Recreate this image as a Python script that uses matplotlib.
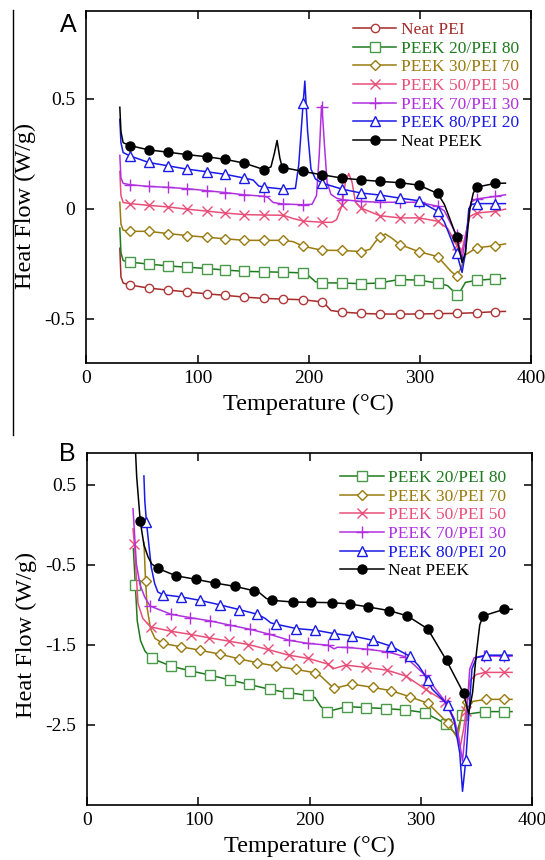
import matplotlib
matplotlib.use("Agg")
import matplotlib.pyplot as plt
from matplotlib.lines import Line2D
import numpy as np

plt.rcParams['font.family'] = ['Liberation Serif', 'DejaVu Serif']

# ---------------- panel A data (temperature in degC, heat flow in W/g) ----------------
tA = [39, 56, 73, 90, 108, 125, 142, 160, 177, 195, 212, 230, 247, 264, 282, 299, 316, 333, 351, 368]

a_pei = [-0.347, -0.361, -0.370, -0.378, -0.387, -0.394, -0.402, -0.408, -0.411, -0.414,
         -0.424, -0.470, -0.476, -0.479, -0.479, -0.479, -0.477, -0.476, -0.473, -0.468]
a_pei_t = [30, 31, 33, 215, 220, 377]
a_pei_h = [-0.18, -0.31, -0.338, -0.435, -0.463, -0.467]

a_20 = [-0.243, -0.252, -0.260, -0.266, -0.272, -0.279, -0.285, -0.287, -0.289, -0.292,
        -0.337, -0.338, -0.341, -0.338, -0.322, -0.325, -0.338, -0.393, -0.326, -0.319]
a_20_t = [30, 31, 33, 200, 206, 272, 325, 330, 337, 341, 377]
a_20_h = [-0.088, -0.20, -0.236, -0.305, -0.332, -0.33, -0.35, -0.375, -0.37, -0.335, -0.317]

a_30 = [-0.103, -0.103, -0.113, -0.122, -0.130, -0.137, -0.144, -0.144, -0.144, -0.171,
        -0.189, -0.190, -0.195, -0.128, -0.163, -0.195, -0.218, -0.307, -0.178, -0.168]
a_30_t = [30, 31, 33, 186, 255, 260, 269, 275, 328, 337, 341, 377]
a_30_h = [0.029, -0.07, -0.098, -0.15, -0.185, -0.15, -0.115, -0.135, -0.285, -0.27, -0.21, -0.160]

a_50 = [0.023, 0.015, 0.008, -0.002, -0.011, -0.020, -0.027, -0.029, -0.030, -0.056,
        -0.062, 0.015, 0.003, -0.032, -0.042, -0.042, -0.057, -0.163, -0.020, -0.012]
a_50_t = [30, 31, 33, 186, 221, 225, 233, 236, 239, 242, 325, 337, 341, 345, 377]
a_50_h = [0.169, 0.06, 0.028, -0.045, -0.062, -0.05, 0.12, 0.16, 0.12, 0.03, -0.09, -0.21, -0.12, -0.035, -0.002]

a_70 = [0.109, 0.101, 0.097, 0.091, 0.082, 0.073, 0.063, 0.056, 0.021, 0.018,
        0.46, 0.041, 0.033, 0.029, 0.029, 0.029, 0.011, -0.12, 0.044, 0.056]
a_70_t = [30, 31, 33, 163, 168, 203, 207, 209.5, 211.5, 214, 216.5, 220, 225, 322, 338, 342, 346, 377]
a_70_h = [0.242, 0.14, 0.115, 0.052, 0.028, 0.02, 0.06, 0.25, 0.468, 0.3, 0.12, 0.065, 0.048,
          -0.01, -0.23, -0.1, 0.03, 0.063]

a_80 = [0.240, 0.210, 0.195, 0.180, 0.168, 0.156, 0.139, 0.098, 0.089, 0.482,
        0.116, 0.089, 0.071, 0.062, 0.048, 0.036, -0.012, -0.201, 0.023, 0.023]
a_80_t = [30, 31, 33, 150, 155, 188, 191, 196.5, 199, 202, 206, 322, 338, 341, 344, 347, 377]
a_80_h = [0.406, 0.3, 0.255, 0.13, 0.103, 0.092, 0.2, 0.58, 0.35, 0.18, 0.135,
          -0.06, -0.29, -0.2, 0.0, 0.02, 0.023]

a_peek = [0.287, 0.267, 0.257, 0.246, 0.236, 0.224, 0.207, 0.177, 0.187, 0.169,
          0.154, 0.139, 0.131, 0.124, 0.118, 0.107, 0.069, -0.128, 0.098, 0.115]
a_peek_t = [30, 31, 33, 166, 169, 171.5, 174, 176, 322, 328, 338, 341, 345, 348, 377]
a_peek_h = [0.461, 0.35, 0.3, 0.19, 0.25, 0.31, 0.23, 0.19, 0.02, -0.06, -0.245, -0.2, 0.0, 0.07, 0.116]

# ---------------- panel B data ----------------
b_20_tm = [43.3, 58.4, 75.3, 92.5, 110.7, 128.6, 145.6, 164.1, 180.7, 198.9,
           215.8, 233.3, 250.9, 268.5, 286.1, 303.7, 322.5, 337, 357.6, 374.9]
b_20 = [-0.757, -1.670, -1.766, -1.824, -1.878, -1.940, -1.994, -2.056, -2.098, -2.131,
        -2.334, -2.272, -2.284, -2.297, -2.313, -2.347, -2.488, -2.376, -2.334, -2.334]
b_20_t = [41.5, 45, 48, 52, 205, 210, 332, 382]
b_20_h = [-0.3, -1.2, -1.45, -1.58, -2.16, -2.27, -2.62, -2.334]

b_30_tm = [52.5, 68.1, 84.7, 101.0, 119.2, 136.2, 153.1, 170.0, 187.6, 205.2,
           221.8, 238.1, 256.6, 273.3, 289.9, 306.5, 324.4, 341.3, 358.3, 374.9]
b_30 = [-0.703, -1.483, -1.525, -1.566, -1.616, -1.674, -1.724, -1.766, -1.807, -1.849,
        -2.044, -1.990, -2.031, -2.073, -2.147, -2.230, -2.479, -2.218, -2.181, -2.181]
b_30_t = [51, 54, 57, 61, 210, 333, 337, 382]
b_30_h = [-0.22, -1.05, -1.3, -1.42, -1.89, -2.666, -2.35, -2.181]

b_50_tm = [42.4, 57.1, 75.3, 93.5, 109.8, 127.4, 144.9, 162.5, 181.3, 198.9,
           216.5, 232.8, 250.4, 269.2, 286.7, 304.3, 322, 340.7, 357.6, 374.9]
b_50 = [-0.239, -1.276, -1.330, -1.371, -1.413, -1.454, -1.496, -1.558, -1.629, -1.670,
        -1.741, -1.753, -1.782, -1.815, -1.890, -2.056, -2.21, -2.322, -1.844, -1.844]
b_50_t = [41.2, 45.7, 50, 222, 330, 335.5, 338.5, 344, 350, 382]
b_50_h = [-0.05, -0.985, -1.17, -1.795, -2.45, -2.77, -2.55, -1.95, -1.87, -1.844]

b_70_tm = [56.5, 75.3, 92.5, 110.7, 128.6, 146.2, 163.8, 181.3, 198.9, 216.5,
           234.0, 251.6, 269.8, 286.1, 304, 321.5, 357, 374.5]
b_70 = [-1.015, -1.118, -1.160, -1.201, -1.255, -1.305, -1.367, -1.442, -1.483, -1.504,
        -1.533, -1.554, -1.587, -1.649, -1.88, -2.2, -1.64, -1.64]
b_70_t = [41.2, 44.2, 47.5, 51.7, 222, 225, 330, 334, 337.5, 340.5, 344, 348, 382]
b_70_h = [0.2, -0.488, -0.75, -0.902, -1.55, -1.53, -2.42, -2.65, -2.95, -2.5, -1.8, -1.66, -1.64]

b_80_tm = [53.3, 68.1, 84.7, 101.3, 119.8, 136.8, 153.1, 170.0, 188.2, 205.2,
           221.8, 238.1, 256.6, 273.3, 289.9, 306.5, 324.4, 340.5, 358.3, 374.9]
b_80 = [0.031, -0.873, -0.902, -0.944, -1.002, -1.060, -1.118, -1.243, -1.297, -1.317,
        -1.359, -1.388, -1.442, -1.517, -1.641, -1.940, -2.251, -2.936, -1.629, -1.629]
b_80_t = [51, 51.8, 57.6, 60.7, 63.5, 160, 165, 298, 310, 330, 335, 337.5, 343.5, 346, 350, 382]
b_80_h = [0.61, 0.3, -0.53, -0.736, -0.84, -1.17, -1.225, -1.76, -2.05, -2.45, -2.85, -3.33,
          -2.3, -1.8, -1.66, -1.629]

b_peek_tm = [47.7, 63.7, 79.7, 98.2, 114.8, 133.0, 150.0, 166.3, 185.1, 201.4,
             220.2, 236.5, 252.9, 271.7, 288.0, 306.2, 323.1, 338.5, 356, 374.9]
b_peek = [0.044, -0.546, -0.637, -0.683, -0.728, -0.770, -0.824, -0.944, -0.965, -0.969,
          -0.973, -0.990, -1.027, -1.073, -1.139, -1.301, -1.695, -2.106, -1.139, -1.056]
b_peek_t = [42.5, 44.5, 51, 54.7, 58, 155, 161, 343, 346.5, 350, 353, 382]
b_peek_h = [1.2, 0.6, -0.25, -0.40, -0.49, -0.85, -0.92, -2.36, -2.1, -1.6, -1.25, -1.056]

labels = ['Neat PEI', 'PEEK 20/PEI 80', 'PEEK 30/PEI 70', 'PEEK 50/PEI 50',
          'PEEK 70/PEI 30', 'PEEK 80/PEI 20', 'Neat PEEK']
colors = ['#a52a2a', '#1f7a1f', '#9a7b10', '#e8507a', '#b030e0', '#1a1ae6', '#000000']
mcolors = ['#b03838', '#4a9a4a', '#9a7b10', '#e8507a', '#b030e0', '#1a1ae6', '#000000']
markers = ['o', 's', 'D', 'x', '+', '^', 'o']
msizes = [6, 6.5, 4.8, 7, 8, 6.5, 6.5]


def draw(ax, tm, hm, te, he, i):
    t = np.concatenate([tm, te])
    h = np.concatenate([hm, he])
    order = np.argsort(t, kind='stable')
    marks = [k for k, j in enumerate(order) if j < len(tm)]
    face = 'black' if i == 6 else 'white'
    ax.plot(t[order], h[order], color=colors[i], lw=1.1, marker=markers[i], ms=msizes[i],
            mfc=face, mec=mcolors[i], mew=1.0, markevery=marks, label=labels[i])


def style(ax, yticks, ylim, ylab_y):
    ax.set_xlim(0, 400)
    ax.set_ylim(*ylim)
    ax.set_xticks([0, 100, 200, 300, 400])
    ax.set_yticks(yticks)
    ax.set_yticklabels(['%g' % v for v in yticks])
    ax.tick_params(direction='in', top=True, right=True, length=6, width=1.1, labelsize=14)
    ax.tick_params(axis='x', pad=5)
    ax.tick_params(axis='y', pad=8)
    for s in ax.spines.values():
        s.set_linewidth(1.2)
    ax.set_xlabel('Temperature (°C)', fontsize=17.5, labelpad=5)
    ax.set_ylabel('Heat Flow (W/g)', fontsize=17.5)
    ax.yaxis.set_label_coords(-0.113, ylab_y)


fig = plt.figure(figsize=(5.45, 8.6), dpi=100)
ax1 = fig.add_axes([0.1587, 0.5783, 0.8156, 0.4093])
ax2 = fig.add_axes([0.1600, 0.0640, 0.8162, 0.4096])

seriesA = [(a_pei, a_pei_t, a_pei_h), (a_20, a_20_t, a_20_h), (a_30, a_30_t, a_30_h),
           (a_50, a_50_t, a_50_h), (a_70, a_70_t, a_70_h), (a_80, a_80_t, a_80_h),
           (a_peek, a_peek_t, a_peek_h)]
for i, (hm, te, he) in enumerate(seriesA):
    draw(ax1, tA, hm, te, he, i)

seriesB = [(b_20_tm, b_20, b_20_t, b_20_h), (b_30_tm, b_30, b_30_t, b_30_h),
           (b_50_tm, b_50, b_50_t, b_50_h), (b_70_tm, b_70, b_70_t, b_70_h),
           (b_80_tm, b_80, b_80_t, b_80_h), (b_peek_tm, b_peek, b_peek_t, b_peek_h)]
for i, (tm, hm, te, he) in enumerate(seriesB, start=1):
    draw(ax2, tm, hm, te, he, i)

style(ax1, [-0.5, 0, 0.5], (-0.7, 0.9), 0.446)
style(ax2, [-2.5, -1.5, -0.5, 0.5], (-3.5, 0.9), 0.482)

for ax, anchor in [(ax1, (0.572, 1.002)), (ax2, (0.542, 0.985))]:
    leg = ax.legend(loc='upper left', bbox_to_anchor=anchor, frameon=False, fontsize=12.5,
                    handlelength=2.5, handletextpad=0.25, labelspacing=0.14, borderaxespad=0.3)
    for txt, ln in zip(leg.get_texts(), leg.get_lines()):
        txt.set_color(ln.get_color())

fig.text(0.125, 0.971, 'A', fontsize=18, family='Liberation Sans', ha='center', va='center')
fig.text(0.123, 0.472, 'B', fontsize=18, family='Liberation Sans', ha='center', va='center')
fig.add_artist(Line2D([12.5 / 545, 12.5 / 545], [1 - 10 / 860, 1 - 435 / 860],
                      color='black', lw=1.0, transform=fig.transFigure))

fig.savefig('out.png', dpi=100)
